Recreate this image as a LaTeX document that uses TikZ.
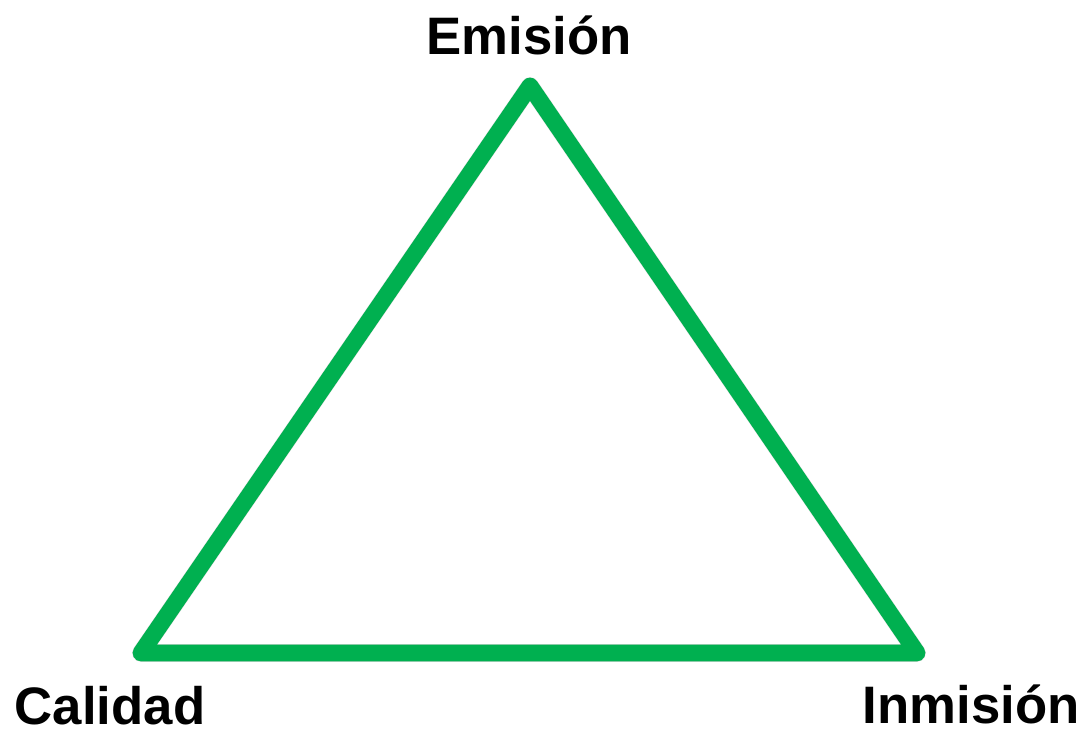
\documentclass[tikz,border=0pt]{standalone}
\usepackage{fontspec}
\setmainfont{Liberation Sans}
\usepackage{xcolor}
\definecolor{verde}{HTML}{00B050}

\begin{document}
\begin{tikzpicture}[x=0.025cm,y=0.025cm,
        lado/.style={draw=verde,line width=0.42cm,line join=round,line cap=round},
        sombra/.style={draw=black,opacity=0.15,line width=0.44cm,line join=round},
        etiqueta/.style={anchor=base,inner sep=0pt,font=\fontsize{37.5}{40}\selectfont\bfseries}]
        \useasboundingbox (0,0) rectangle (1086,734);
        % vertices del triangulo
        \coordinate (emi) at (530,648);
        \coordinate (cal) at (141,81);
        \coordinate (inm) at (917,81);
        % sombra suave
        \draw[sombra,shift={(3,-3)}] (emi) -- (inm) -- (cal) -- cycle;
        \draw[lado] (emi) -- (inm) -- (cal) -- cycle;
        % textos
        \node[etiqueta] (tEmi) at (529,679) {Emisión};
        \node[etiqueta] (tCal) at (110,9) {Calidad};
        \node[etiqueta] (tInm) at (971,10) {Inmisión};
    \end{tikzpicture}
\end{document}
